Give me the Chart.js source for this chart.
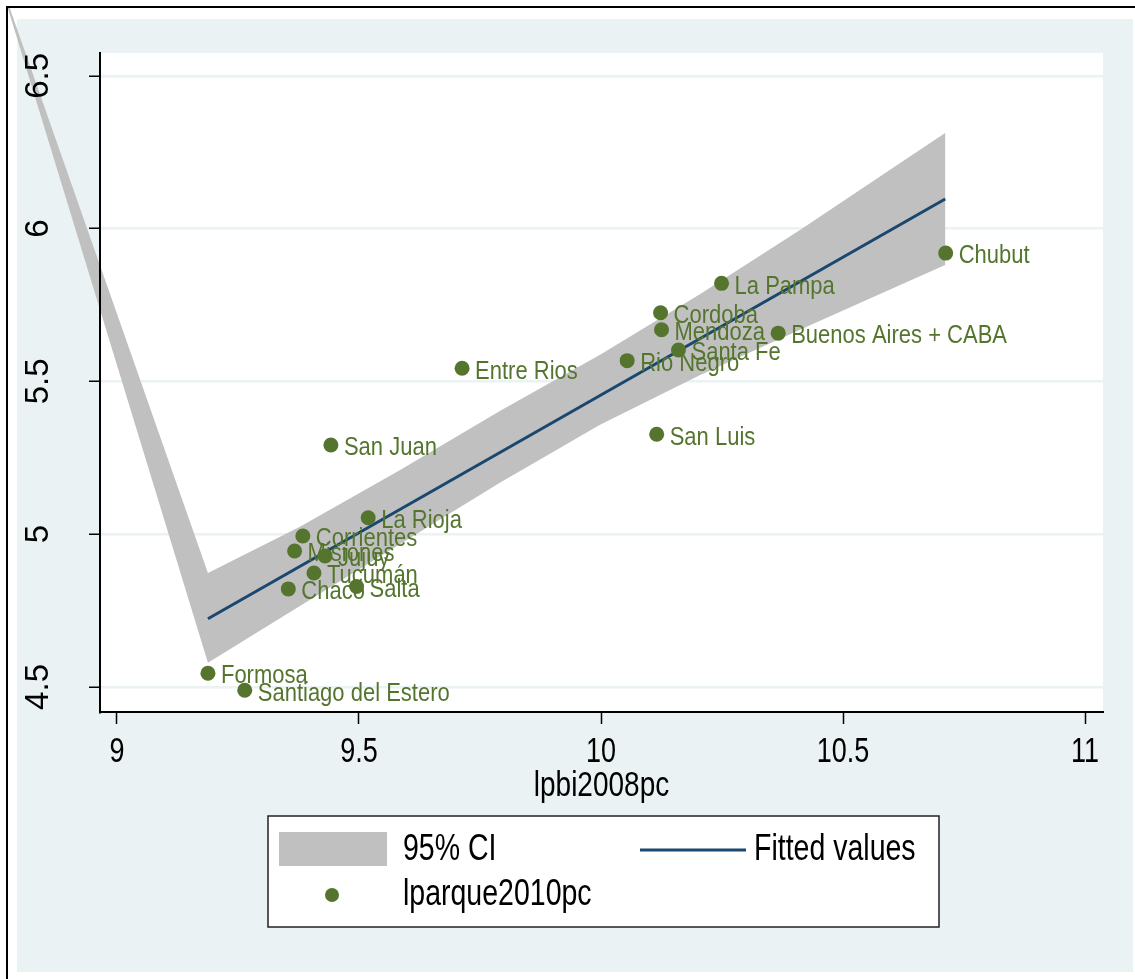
<!DOCTYPE html>
<html>
<head>
<meta charset="utf-8">
<script src="https://cdn.jsdelivr.net/npm/chart.js@4.4.1/dist/chart.umd.min.js"></script>
<style>
  html, body { margin: 0; padding: 0; background: #fff; }
  #wrap { width: 1135px; height: 979px; }
</style>
</head>
<body>
<div id="wrap"><canvas id="chart" width="1135" height="979"></canvas></div>
<script>
// provinces (scatter + marker labels)
const provinces = ['Formosa', 'Santiago del Estero', 'Chaco', 'Misiones', 'Corrientes', 'Jujuy',
  'Tucumán', 'Salta', 'La Rioja', 'San Juan', 'Entre Rios', 'Rio Negro', 'Santa Fe', 'Mendoza',
  'Cordoba', 'San Luis', 'La Pampa', 'Buenos Aires + CABA', 'Chubut'];
const lpbi = [9.188, 9.264, 9.354, 9.367, 9.384, 9.430, 9.407, 9.495, 9.519, 9.442, 9.713, 10.054,
  10.160, 10.125, 10.123, 10.115, 10.249, 10.366, 10.712];
const lparque = [4.545, 4.489, 4.821, 4.945, 4.994, 4.929, 4.873, 4.829, 5.054, 5.292, 5.543, 5.568,
  5.603, 5.669, 5.725, 5.327, 5.821, 5.658, 5.920];

// fitted line
const fitX = [9.188, 10.711];
const fitY = [4.723, 6.097];

// 95% CI band (first point is the stray point off the plot, top left)
const ciX = [8.748, 9.188, 9.378, 9.585, 9.791, 9.998, 10.205, 10.411, 10.618, 10.711];
const ciUpper = [6.86, 4.873, 5.024, 5.210, 5.403, 5.587, 5.786, 5.996, 6.215, 6.313];
const ciLower = [6.86, 4.579, 4.765, 4.968, 5.168, 5.358, 5.521, 5.669, 5.816, 5.881];

const xTicks = [9, 9.5, 10, 10.5, 11];
const yTicks = [4.5, 5, 5.5, 6, 6.5];

const GREEN = 'rgb(85,117,47)';
const NAVY = 'rgb(26,71,111)';
const BAND = 'rgb(192,192,192)';
const BG = 'rgb(234,242,243)';
const FONT = '"Liberation Sans", Arial, sans-serif';

const pts = (xs, ys) => xs.map((x, i) => ({x: x, y: ys[i]}));

// text drawn taller than wide, like the Stata export
function tallText(ctx, txt, x, y, k) {
  ctx.save();
  ctx.translate(x, y);
  ctx.scale(1, k);
  ctx.fillText(txt, 0, 0);
  ctx.restore();
}

const frame = {
  id: 'frame',
  beforeDraw(chart) {
    const ctx = chart.ctx, a = chart.chartArea;
    ctx.save();
    ctx.fillStyle = '#fff';
    ctx.fillRect(0, 0, chart.width, chart.height);
    ctx.fillStyle = BG;
    ctx.fillRect(17, 19, 1133 - 17, 972 - 19);
    ctx.fillStyle = '#fff';
    ctx.fillRect(a.left, a.top, a.right - a.left, a.bottom - a.top);
    ctx.restore();
  },
  beforeDatasetsDraw(chart) {
    // CI area, not clipped to the plot region
    const ctx = chart.ctx, sx = chart.scales.x, sy = chart.scales.y;
    const up = chart.data.datasets[0].data, lo = chart.data.datasets[1].data;
    ctx.save();
    ctx.fillStyle = chart.data.datasets[0].backgroundColor;
    ctx.beginPath();
    up.forEach((p, i) => {
      const px = sx.getPixelForValue(p.x), py = sy.getPixelForValue(p.y);
      if (i === 0) ctx.moveTo(px, py); else ctx.lineTo(px, py);
    });
    for (let i = lo.length - 1; i >= 0; i--) {
      ctx.lineTo(sx.getPixelForValue(lo[i].x), sy.getPixelForValue(lo[i].y));
    }
    ctx.closePath();
    ctx.fill();
    ctx.restore();
  },
  afterDraw(chart) {
    const ctx = chart.ctx, sx = chart.scales.x, a = chart.chartArea;
    ctx.save();
    // x tick labels and axis title
    ctx.fillStyle = '#000';
    ctx.textAlign = 'center';
    ctx.textBaseline = 'alphabetic';
    ctx.font = '27px ' + FONT;
    sx.ticks.forEach((t, i) => {
      tallText(ctx, String(t.value), sx.getPixelForTick(i), 762, 1.27);
    });
    ctx.font = '28px ' + FONT;
    tallText(ctx, 'lpbi2008pc', (a.left + a.right) / 2, 796, 1.27);

    ctx.fillStyle = '#fff';
    ctx.fillRect(0, 0, chart.width, 6);
    ctx.fillRect(0, 0, 6, chart.height);
    ctx.strokeStyle = '#000';
    ctx.lineWidth = 2;
    ctx.beginPath();
    ctx.moveTo(7, chart.height);
    ctx.lineTo(7, 7);
    ctx.lineTo(chart.width, 7);
    ctx.stroke();

    // legend
    const ds = chart.data.datasets;
    ctx.fillStyle = '#fff';
    ctx.fillRect(268, 816, 671, 111);
    ctx.strokeStyle = '#222';
    ctx.lineWidth = 1.5;
    ctx.strokeRect(268, 816, 671, 111);
    ctx.fillStyle = ds[0].backgroundColor;
    ctx.fillRect(279, 832, 108, 34);
    ctx.strokeStyle = ds[2].borderColor;
    ctx.lineWidth = 3;
    ctx.beginPath();
    ctx.moveTo(640, 850);
    ctx.lineTo(746, 850);
    ctx.stroke();
    ctx.fillStyle = ds[3].backgroundColor;
    ctx.beginPath();
    ctx.arc(332, 895, 7, 0, Math.PI * 2);
    ctx.fill();
    ctx.fillStyle = '#000';
    ctx.font = '28.5px ' + FONT;
    ctx.textBaseline = 'middle';
    ctx.textAlign = 'left';
    tallText(ctx, ds[0].label, 403, 850, 1.28);
    tallText(ctx, ds[2].label, 754, 850, 1.28);
    tallText(ctx, ds[3].label, 403, 895, 1.28);
    ctx.restore();
  }
};

const markerLabels = {
  id: 'markerLabels',
  afterDatasetsDraw(chart) {
    const ctx = chart.ctx;
    const meta = chart.getDatasetMeta(3);
    ctx.save();
    ctx.fillStyle = GREEN;
    ctx.font = '22px ' + FONT;
    ctx.textBaseline = 'middle';
    ctx.textAlign = 'left';
    meta.data.forEach((el, i) => {
      tallText(ctx, provinces[i], el.x + 13, el.y + 3, 1.2);
    });
    ctx.restore();
  }
};

new Chart(document.getElementById('chart'), {
  type: 'scatter',
  data: {
    datasets: [
      {
        label: '95% CI',
        data: pts(ciX, ciUpper),
        pointRadius: 0,
        borderWidth: 0,
        backgroundColor: BAND,
        order: 4
      },
      {
        label: 'ci lower',
        data: pts(ciX, ciLower),
        pointRadius: 0,
        borderWidth: 0,
        backgroundColor: BAND,
        order: 3
      },
      {
        label: 'Fitted values',
        data: pts(fitX, fitY),
        showLine: true,
        pointRadius: 0,
        borderWidth: 3,
        borderColor: NAVY,
        backgroundColor: NAVY,
        fill: false,
        order: 2
      },
      {
        label: 'lparque2010pc',
        data: pts(lpbi, lparque),
        pointRadius: 7.5,
        pointHoverRadius: 7.5,
        borderWidth: 0,
        backgroundColor: GREEN,
        borderColor: GREEN,
        order: 1
      }
    ]
  },
  options: {
    responsive: false,
    animation: false,
    events: [],
    layout: { padding: { left: 17, top: 53, right: 32, bottom: 157 } },
    plugins: {
      legend: { display: false },
      tooltip: { enabled: false }
    },
    scales: {
      x: {
        type: 'linear',
        min: 8.965,
        max: 11.037,
        afterBuildTicks: s => { s.ticks = xTicks.map(v => ({value: v})); },
        afterFit: s => { s.height = 110; },
        grid: { drawOnChartArea: false, drawTicks: true, tickLength: 12, tickColor: '#000', tickWidth: 1.5 },
        border: { color: '#000', width: 2, z: 1 },
        ticks: { display: false }
      },
      y: {
        type: 'linear',
        min: 4.418,
        max: 6.575,
        afterBuildTicks: s => { s.ticks = yTicks.map(v => ({value: v})); },
        afterFit: s => { s.width = 83; },
        grid: { color: BG, lineWidth: 2.5, drawTicks: true, tickLength: 11, tickColor: '#000', tickWidth: 1.5 },
        border: { color: '#000', width: 2, z: 1 },
        ticks: { color: '#000', font: { family: FONT, size: 33 }, padding: 27, minRotation: 90, maxRotation: 90,
          crossAlign: 'center', z: 1, callback: v => String(v) }
      }
    }
  },
  plugins: [frame, markerLabels]
});
</script>
</body>
</html>
